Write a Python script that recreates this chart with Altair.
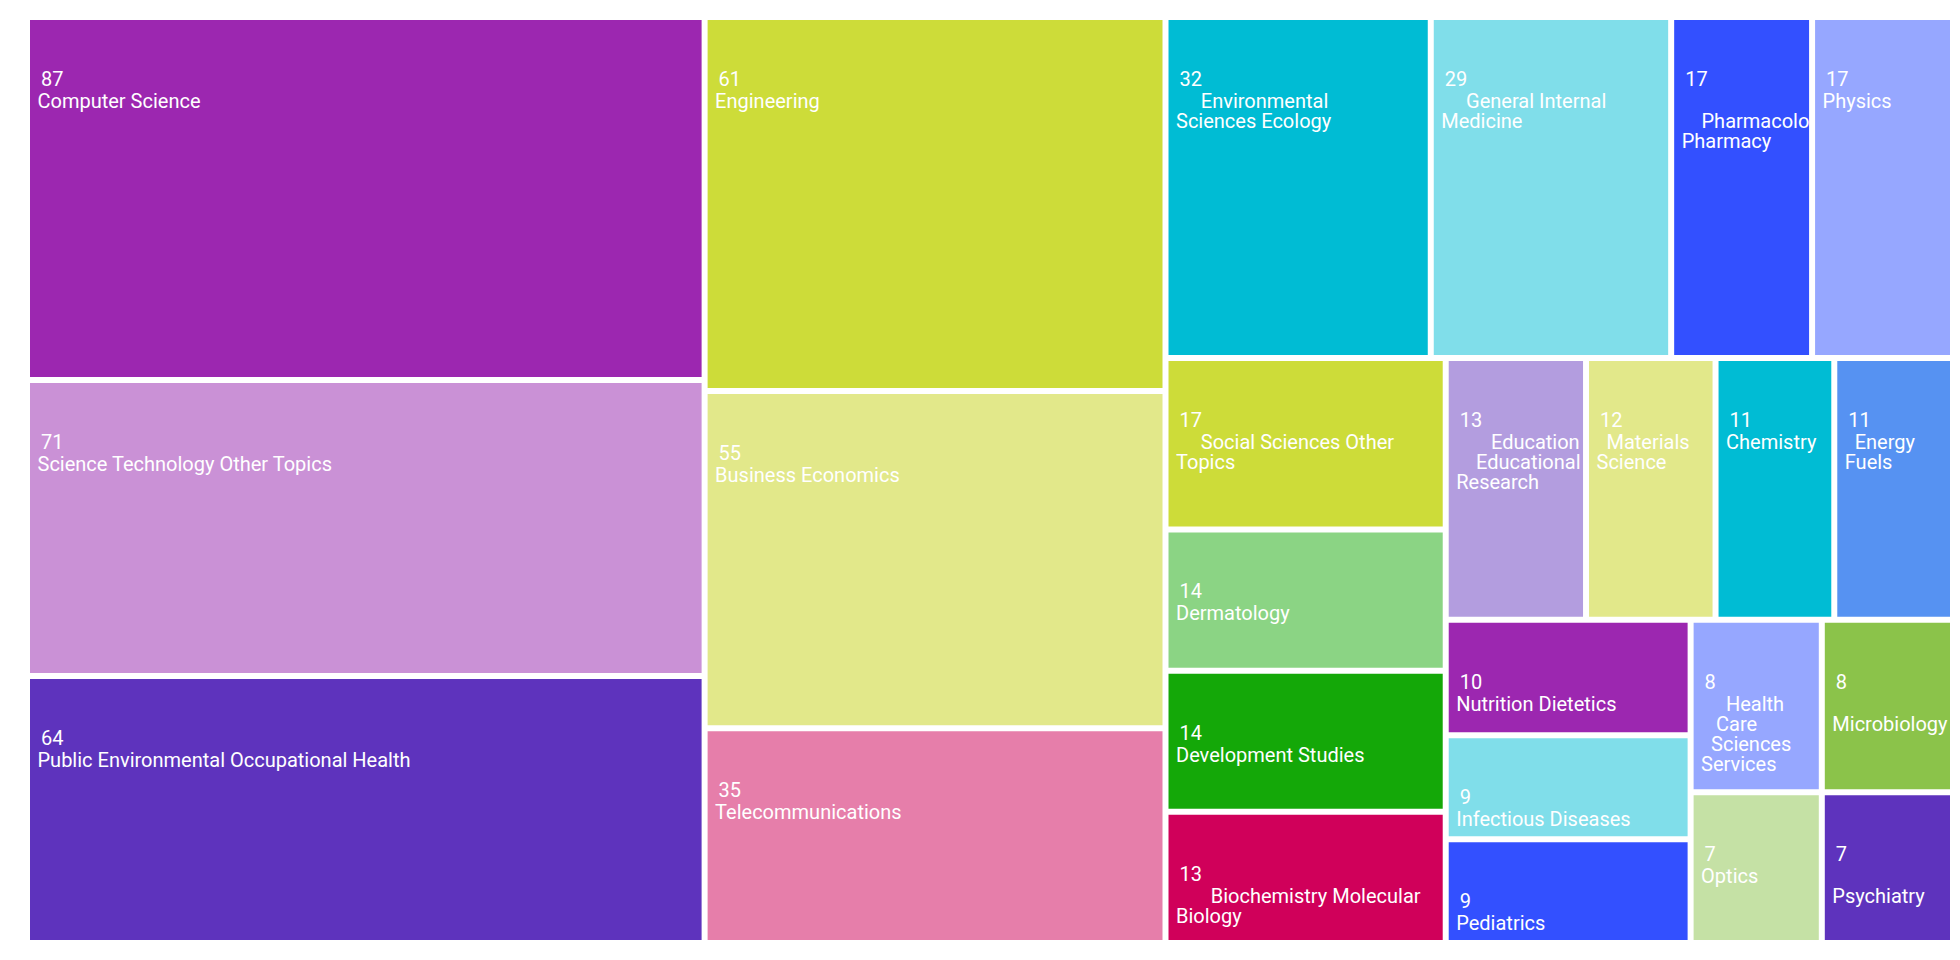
import math

import altair as alt
import pandas as pd

# Research areas and record counts
categories = [
    "Computer Science", "Science Technology Other Topics",
    "Public Environmental Occupational Health", "Engineering",
    "Business Economics", "Telecommunications",
    "Environmental Sciences Ecology", "General Internal Medicine",
    "Pharmacology Pharmacy", "Physics", "Social Sciences Other Topics",
    "Dermatology", "Development Studies", "Biochemistry Molecular Biology",
    "Education Educational Research", "Materials Science", "Chemistry",
    "Energy Fuels", "Nutrition Dietetics", "Infectious Diseases",
    "Pediatrics", "Health Care Sciences Services", "Microbiology",
    "Optics", "Psychiatry",
]
counts = [87, 71, 64, 61, 55, 35, 32, 29, 17, 17, 17, 14, 14, 13, 13, 12,
          11, 11, 10, 9, 9, 8, 8, 7, 7]

# Label text as it wraps inside each tile
label_lines = [
    "Computer Science",
    "Science Technology Other Topics",
    "Public Environmental Occupational Health",
    "Engineering",
    "Business Economics",
    "Telecommunications",
    "     Environmental\nSciences Ecology",
    "     General Internal\nMedicine",
    "\n    Pharmacology\nPharmacy",
    "Physics",
    "     Social Sciences Other\nTopics",
    "Dermatology",
    "Development Studies",
    "       Biochemistry Molecular\nBiology",
    "       Education\n    Educational\nResearch",
    "  Materials\nScience",
    "Chemistry",
    "  Energy\nFuels",
    "Nutrition Dietetics",
    "Infectious Diseases",
    "Pediatrics",
    "     Health\n   Care\n  Sciences\nServices",
    "\nMicrobiology",
    "Optics",
    "\nPsychiatry",
]

colors = [
    "#9c27b0", "#ca91d6", "#5e33bd", "#cddc39", "#e2e88a", "#e67eaa",
    "#00bcd4", "#80deea", "#3350ff", "#96a7ff", "#cddc39", "#8bd484",
    "#14a808", "#d0005a", "#b39ddf", "#e2e88a", "#00bcd4", "#5692f2",
    "#9c27b0", "#80deea", "#3350ff", "#96a7ff", "#8bc34a", "#c5e1a5",
    "#5e33bd",
]

W, H = 1960, 960
HALF_GAP = 3
SQUARE_RATIO = 0.5 * (1 + math.sqrt(5))


def worst(row_areas, fixed, ratio):
    s = sum(row_areas)
    if s <= 0:
        return math.inf
    sq = s * s
    f = fixed * fixed * ratio
    return max(f * max(row_areas) / sq, sq / (f * min(row_areas)))


def position(row, fixed, rect, flush, out):
    horiz = abs(fixed - rect["w"]) < 1e-9
    row_area = sum(a for _, a in row)
    other = row_area / fixed if fixed else 0
    span = rect["h"] if horiz else rect["w"]
    if flush or other > span:
        other = span
    start = rect["x"] if horiz else rect["y"]
    length = rect["w"] if horiz else rect["h"]
    last = start
    for k, (idx, a) in enumerate(row):
        step = a / other if other else 0
        remain = start + length - last
        mod = remain if (k == len(row) - 1 or remain < step) else step
        if horiz:
            out[idx] = (last + HALF_GAP, rect["y"] + HALF_GAP,
                        last + mod - HALF_GAP, rect["y"] + other - HALF_GAP)
        else:
            out[idx] = (rect["x"] + HALF_GAP, last + HALF_GAP,
                        rect["x"] + other - HALF_GAP, last + mod - HALF_GAP)
        last += mod
    if horiz:
        rect["y"] += other
        rect["h"] -= other
    else:
        rect["x"] += other
        rect["w"] -= other


def squarify(values, rect):
    total = sum(values)
    areas = [v / total * rect["w"] * rect["h"] for v in values]
    out = [None] * len(values)
    row, best = [], math.inf
    fixed = min(rect["w"], rect["h"])
    i = 0
    while i < len(areas):
        row.append((i, areas[i]))
        score = worst([a for _, a in row], fixed, SQUARE_RATIO)
        if score <= best:
            best = score
            i += 1
        else:
            row.pop()
            position(row, fixed, rect, False, out)
            fixed = min(rect["w"], rect["h"])
            row, best = [], math.inf
    if row:
        position(row, fixed, rect, True, out)
    return out


tiles = squarify(counts, {"x": 27.0, "y": 17.0, "w": 1926.0, "h": 926.0})

cells = pd.DataFrame({
    "name": categories,
    "count": counts,
    "color": colors,
    "x0": [t[0] for t in tiles],
    "y0": [t[1] for t in tiles],
    "x1": [t[2] for t in tiles],
    "y1": [t[3] for t in tiles],
})

rows = []
for (x0, y0, x1, y1), n, text in zip(tiles, counts, label_lines):
    rows.append({"tx": x0 + 11, "ty": y0 + 66, "label": str(n),
                 "lim": x1 - x0 - 11})
    for j, line in enumerate(text.split("\n")):
        if not line:
            continue
        stripped = line.lstrip(" ")
        pad = len(line) - len(stripped)
        # a zero-width lead keeps the indent from being trimmed
        shown = ("\u200b" + "\u00a0" * pad + stripped) if pad else stripped
        rows.append({"tx": x0 + 7.5, "ty": y0 + 88 + 20 * j, "label": shown,
                     "lim": x1 - x0 - 1})
labels = pd.DataFrame(rows)

xs = alt.Scale(domain=[0, W], nice=False, zero=False)
ys = alt.Scale(domain=[0, H], nice=False, zero=False, reverse=True)

tiles_layer = alt.Chart(cells).mark_rect().encode(
    x=alt.X("x0:Q", scale=xs, axis=None),
    x2="x1:Q",
    y=alt.Y("y0:Q", scale=ys, axis=None),
    y2="y1:Q",
    color=alt.Color("color:N", scale=None, legend=None),
    tooltip=["name:N", "count:Q"],
)

text_layer = alt.Chart(labels).mark_text(
    align="left", baseline="alphabetic", font="Roboto", fontSize=20,
    color="#ffffff", ellipsis="\u200b", limit={"expr": "datum.lim"},
).encode(
    x=alt.X("tx:Q", scale=xs, axis=None),
    y=alt.Y("ty:Q", scale=ys, axis=None),
    text="label:N",
)

chart = alt.layer(tiles_layer, text_layer).properties(
    width=W, height=H, padding=0,
    autosize=alt.AutoSizeParams(type="none"),
    background="#ffffff",
).configure_view(stroke=None)

chart.save("out.html", embed_options={"renderer": "svg", "actions": False})
